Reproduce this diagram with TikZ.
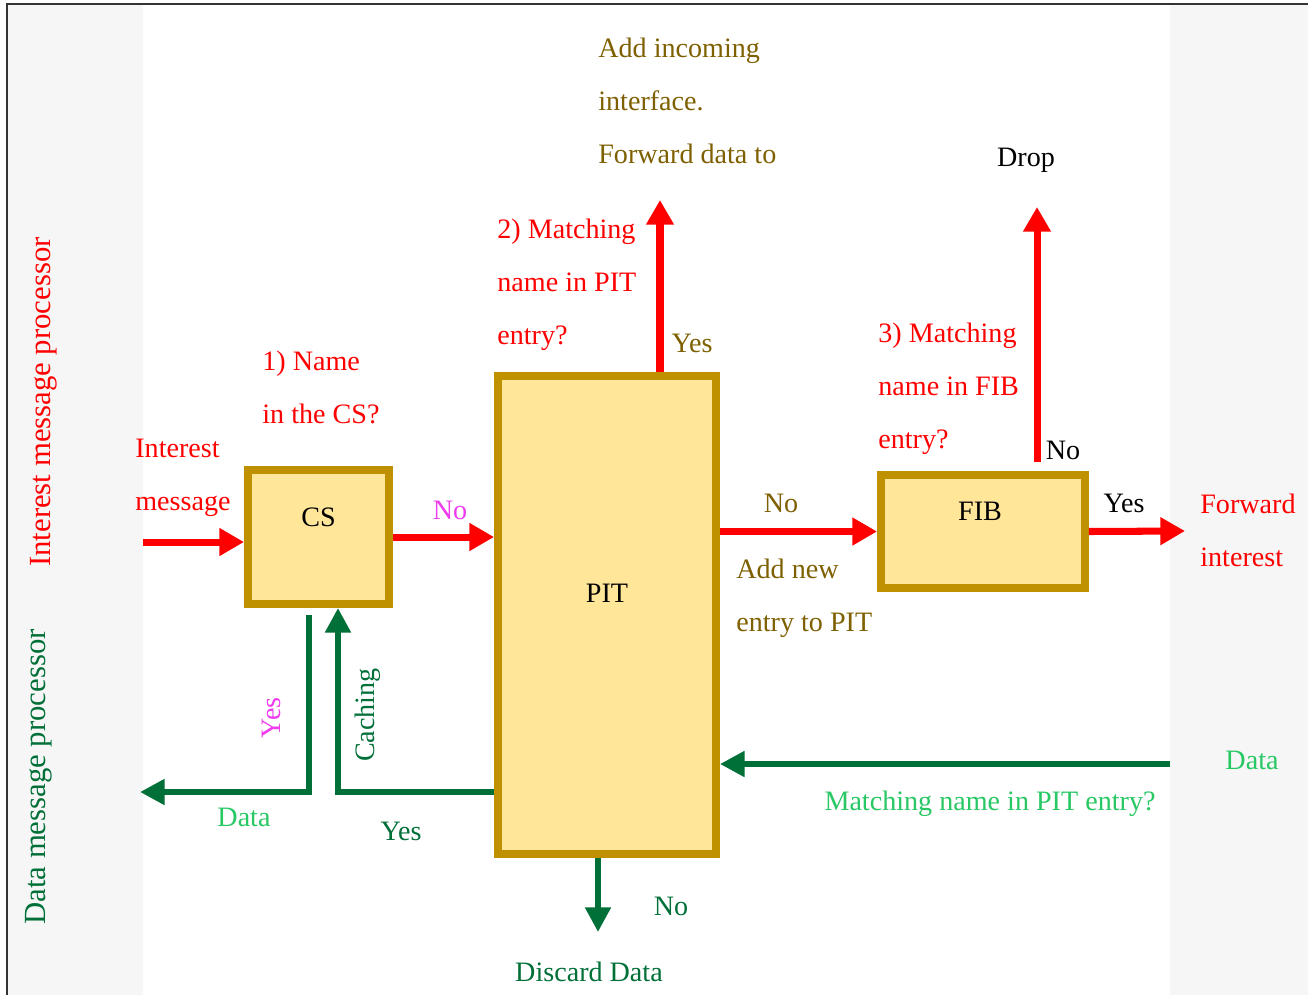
\documentclass[tikz,border=0pt]{standalone}
\usepackage{fontspec}
\setmainfont{Liberation Serif}
\usetikzlibrary{arrows.meta}

\definecolor{panelgray}{HTML}{F6F6F6}
\definecolor{boxfill}{HTML}{FFE699}
\definecolor{boxline}{HTML}{BF9000}
\definecolor{olivetxt}{HTML}{7F6000}
\definecolor{darkgrn}{RGB}{0,112,56}
\definecolor{lightgrn}{RGB}{40,200,100}
\definecolor{pinkmag}{RGB}{238,60,238}

\tikzset{
  blockbox/.style={draw=boxline,fill=boxfill,line width=4.5pt,inner sep=0pt},
  lbl/.style={inner sep=0pt,font=\fontsize{16}{30}\selectfont,text height=11pt,text depth=3pt},
  sidelbl/.style={lbl,rotate=90,font=\fontsize{17.5}{30}\selectfont},
  blk/.style={inner sep=0pt,align=left,anchor=north west,font=\fontsize{16}{30}\selectfont},
  redarrow/.style={draw=red,line width=4pt,-{Triangle[length=14pt,width=15pt]}},
  grnarrow/.style={draw=darkgrn,line width=3.4pt,-{Triangle[length=14pt,width=14pt]}}
}

\begin{document}
\begin{tikzpicture}[x=0.02cm,y=-0.02cm]
  \useasboundingbox (0,0) rectangle (1308,995);
  % background and side panels
  \fill[white] (0,0) rectangle (1308,995);
  \fill[panelgray] (7,4) rectangle (143,995);
  \fill[panelgray] (1170,4) rectangle (1308,995);
  \draw[line width=1.2pt,black!80] (7,995) -- (7,4) -- (1308,4);

  % side titles
  \node[sidelbl,red] (intproc) at (43,402) {Interest message processor};
  \node[sidelbl,darkgrn] (dataproc) at (38,777) {Data message processor};

  % tables
  \node[blockbox,minimum width=2.82cm,minimum height=2.68cm,
        label={[lbl,name=cstext,yshift=0.36cm]center:CS}] (cs) at (318.5,537) {};
  \node[blockbox,minimum width=4.36cm,minimum height=9.56cm,
        label={[lbl,name=pittext,yshift=0.4cm]center:PIT}] (pit) at (607,615) {};
  \node[blockbox,minimum width=4.08cm,minimum height=2.26cm,
        label={[lbl,name=fibtext,yshift=0.37cm,xshift=-0.06cm]center:FIB}] (fib) at (983,531.5) {};

  % free ends
  \coordinate (intin) at (143,542);
  \coordinate (fwd) at (1185,531);
  \coordinate (pitup) at (660,200);
  \coordinate (fibout) at (1037,462);
  \coordinate (droptip) at (1037,207);
  \coordinate (datain) at (1170,764);
  \coordinate (cachecorner) at (338,792);
  \coordinate (csyes) at (309,615);
  \coordinate (dataout) at (140,792);
  \coordinate (discard) at (598,932);

  % interest path
  \draw[redarrow] (intin) -- (intin -| cs.west);
  \draw[redarrow] (cs.east) -- (cs.east -| pit.west);
  \draw[redarrow] (fib.west -| pit.east) -- (fib.west);
  \draw[redarrow] (fib.east) -- (fwd);
  \draw[redarrow] (pitup |- pit.north) -- (pitup);
  \draw[redarrow] (fibout) -- (droptip);

  % data path
  \draw[grnarrow] (datain) -- (datain -| pit.east);
  \draw[grnarrow] (cachecorner -| pit.west) -- (cachecorner) -- (cachecorner |- cs.south);
  \draw[grnarrow] (csyes) -- (csyes |- dataout) -- (dataout);
  \draw[grnarrow] (discard |- pit.south) -- (discard);

  % interest labels
  \node[blk,red] (inmsg) at (135,439) {Interest\\message};
  \node[blk,red] (q1) at (262,351) {1) Name\\in the CS?};
  \node[blk,red] (q2) at (497,219) {2) Matching\\name in PIT\\entry?};
  \node[blk,red] (q3) at (878,323) {3) Matching\\name in FIB\\entry?};
  \node[blk,olivetxt] (addin) at (598,38) {Add incoming\\interface.\\Forward data to};
  \node[blk,olivetxt] (addnew) at (736,559) {Add new\\entry to PIT};
  \node[blk,red] (fwdint) at (1200,494) {Forward\\interest};
  \node[lbl,pinkmag] (csno) at (450,512) {No};
  \node[lbl,olivetxt] (pitno) at (781,505) {No};
  \node[lbl,olivetxt] (pityes) at (692,345) {Yes};
  \node[lbl] (fibyes) at (1124,505) {Yes};
  \node[lbl] (fibno) at (1063,452) {No};
  \node[lbl] (drop) at (1026,159) {Drop};

  % data labels
  \node[lbl,lightgrn] (datar) at (1252,762) {Data};
  \node[lbl,lightgrn] (pitq) at (990,803) {Matching name in PIT entry?};
  \node[lbl,lightgrn] (datal) at (244,819) {Data};
  \node[lbl,pinkmag,rotate=90] (csyestxt) at (273,718) {Yes};
  \node[lbl,darkgrn,rotate=90] (caching) at (367,715) {Caching};
  \node[lbl,darkgrn] (pitdyes) at (401,833) {Yes};
  \node[lbl,darkgrn] (pitdno) at (671,908) {No};
  \node[lbl,darkgrn] (disc) at (589,974) {Discard Data};
\end{tikzpicture}
\end{document}
